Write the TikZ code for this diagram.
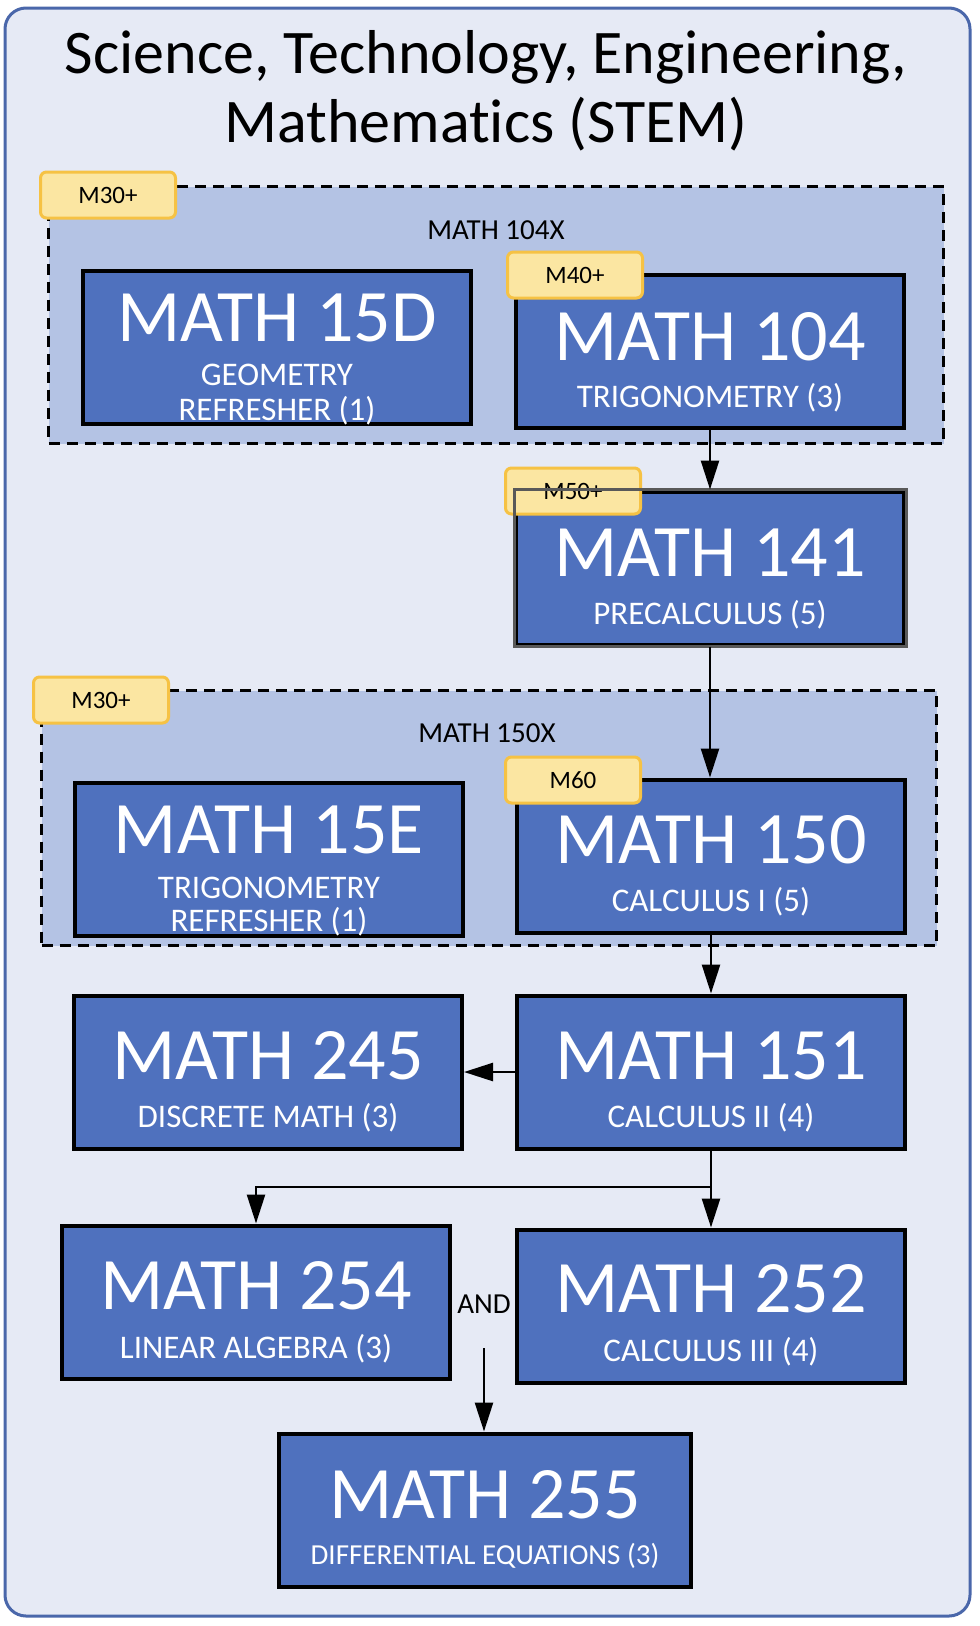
\documentclass[tikz,border=0pt]{standalone}
\usepackage{fontspec}
\setmainfont{Carlito}[Ligatures=NoCommon]
\usetikzlibrary{arrows.meta}

\definecolor{panelfill}{HTML}{E6EAF5}
\definecolor{panelline}{HTML}{4A67AA}
\definecolor{groupfill}{HTML}{B4C3E4}
\definecolor{coursefill}{HTML}{4F71BE}
\definecolor{tagfill}{HTML}{FBE6A2}
\definecolor{tagline}{HTML}{F6C244}
\definecolor{edgegray}{HTML}{595959}

\newcommand{\headingfont}{\fontsize{62}{69}\selectfont}
\newcommand{\codefont}{\fontsize{74}{82}\selectfont}
\newcommand{\namefont}{\fontsize{33}{37}\selectfont}
\newcommand{\groupfont}{\fontsize{29}{32}\selectfont}
\newcommand{\tagfont}{\fontsize{25}{28}\selectfont}

\tikzset{
  coursebox/.style={draw=black, line width=4pt, fill=coursefill,
    minimum width=388pt, minimum height=153pt, inner sep=0pt},
  coursecode/.style={text=white, font=\codefont, inner sep=0pt},
  coursename/.style={text=white, font=\namefont, inner sep=0pt},
  groupbox/.style={draw=black, line width=3.5pt, fill=groupfill,
    dash pattern=on 11pt off 7pt, minimum width=895pt, inner sep=0pt},
  grouptext/.style={font=\groupfont, inner sep=0pt},
  levelbox/.style={draw=tagline, line width=3pt, fill=tagfill, rounded corners=6pt,
    minimum width=135pt, minimum height=46pt, font=\tagfont, inner sep=0pt},
  flow/.style={-{Triangle[length=29pt,width=18pt]}, line width=2.5pt},
}

\begin{document}
\begin{tikzpicture}[x=1pt, y=-1pt]
    \useasboundingbox (0,0) rectangle (980,1626);
    \draw[panelline, line width=3pt, fill=panelfill, rounded corners=21pt] (5,8) rectangle (970,1616);

    % heading
    \node[font=\headingfont, anchor=base, inner sep=0pt] (head1) at (486,73) {Science, Technology, Engineering,};
    \node[font=\headingfont, anchor=base, inner sep=0pt] (head2) at (486,142) {Mathematics (STEM)};

    % MATH 104X group
    \node[groupbox, minimum height=257pt] (g104x) at (496,315) {};
    \node[grouptext] (g104xt) at (496,230) {MATH 104X};
    \node[coursebox] (m15d) at (277,347) {};
    \node[coursecode] (m15dc) at (277,318) {MATH 15D};
    \node[coursename] (m15dn) at (277,375) {GEOMETRY};
    \node[coursename] (m15dn2) at (277,411) {REFRESHER (1)};
    \node[coursebox] (m104) at (710,351) {};
    \node[coursecode] (m104c) at (710,337) {MATH 104};
    \node[coursename] (m104n) at (710,398) {TRIGONOMETRY (3)};

    % MATH 141
    \node[coursebox] (m141) at (710,568) {};
    \node[coursecode] (m141c) at (710,553) {MATH 141};
    \node[coursename] (m141n) at (710,615) {PRECALCULUS (5)};

    % MATH 150X group
    \node[groupbox, minimum height=255pt] (g150x) at (489,818) {};
    \node[grouptext] (g150xt) at (487,733) {MATH 150X};
    \node[coursebox] (m15e) at (269,859) {};
    \node[coursecode] (m15ec) at (269,830) {MATH 15E};
    \node[coursename] (m15en) at (269,888) {TRIGONOMETRY};
    \node[coursename] (m15en2) at (269,922) {REFRESHER (1)};
    \node[coursebox] (m150) at (711,856) {};
    \node[coursecode] (m150c) at (711,840) {MATH 150};
    \node[coursename] (m150n) at (711,902) {CALCULUS I (5)};

    % second year
    \node[coursebox] (m151) at (711,1072) {};
    \node[coursecode] (m151c) at (711,1056) {MATH 151};
    \node[coursename] (m151n) at (711,1118) {CALCULUS II (4)};
    \node[coursebox] (m245) at (268,1072) {};
    \node[coursecode] (m245c) at (268,1056) {MATH 245};
    \node[coursename] (m245n) at (268,1118) {DISCRETE MATH (3)};
    \node[coursebox] (m254) at (256,1302) {};
    \node[coursecode] (m254c) at (256,1286) {MATH 254};
    \node[coursename] (m254n) at (256,1349) {LINEAR ALGEBRA (3)};
    \node[coursebox] (m252) at (711,1306) {};
    \node[coursecode] (m252c) at (711,1289) {MATH 252};
    \node[coursename] (m252n) at (711,1352) {CALCULUS III (4)};
    \node[grouptext] (and) at (484,1304) {AND};
    \node[coursebox, minimum width=412pt] (m255) at (485,1510) {};
    \node[coursecode] (m255c) at (485,1495) {MATH 255};
    \node[coursename, font=\fontsize{29}{32}\selectfont] (m255n) at (485,1556) {DIFFERENTIAL EQUATIONS (3)};

    % placement levels
    \node[levelbox] (t104x) at (108,195) {M30+};
    \node[levelbox] (t104) at (575,275) {M40+};
    \node[levelbox] (t141) at (573,491) {M50+};
    \node[levelbox] (t150x) at (101,700) {M30+};
    \node[levelbox] (t150) at (573,780) {M60};
    \draw[edgegray, line width=3pt] (m141.south west) rectangle (m141.north east);

    % prerequisites
    \coordinate (split) at (711,1187);
    \coordinate (andstem) at (484,1348);
    \draw[flow] (m104.south) -- (m104.south |- m141.north);
    \draw[flow] (m141.south) -- (m141.south |- m150.north);
    \draw[flow] (m150.south) -- (m151.north);
    \draw[flow] (m151.west) -- (m245.east);
    \draw[line width=2.5pt] (m151.south) -- (split);
    \draw[flow] (split) -| (m254.north);
    \draw[flow] (split) -- (m252.north);
    \draw[flow] (andstem) -- (andstem |- m255.north);
\end{tikzpicture}
\end{document}
